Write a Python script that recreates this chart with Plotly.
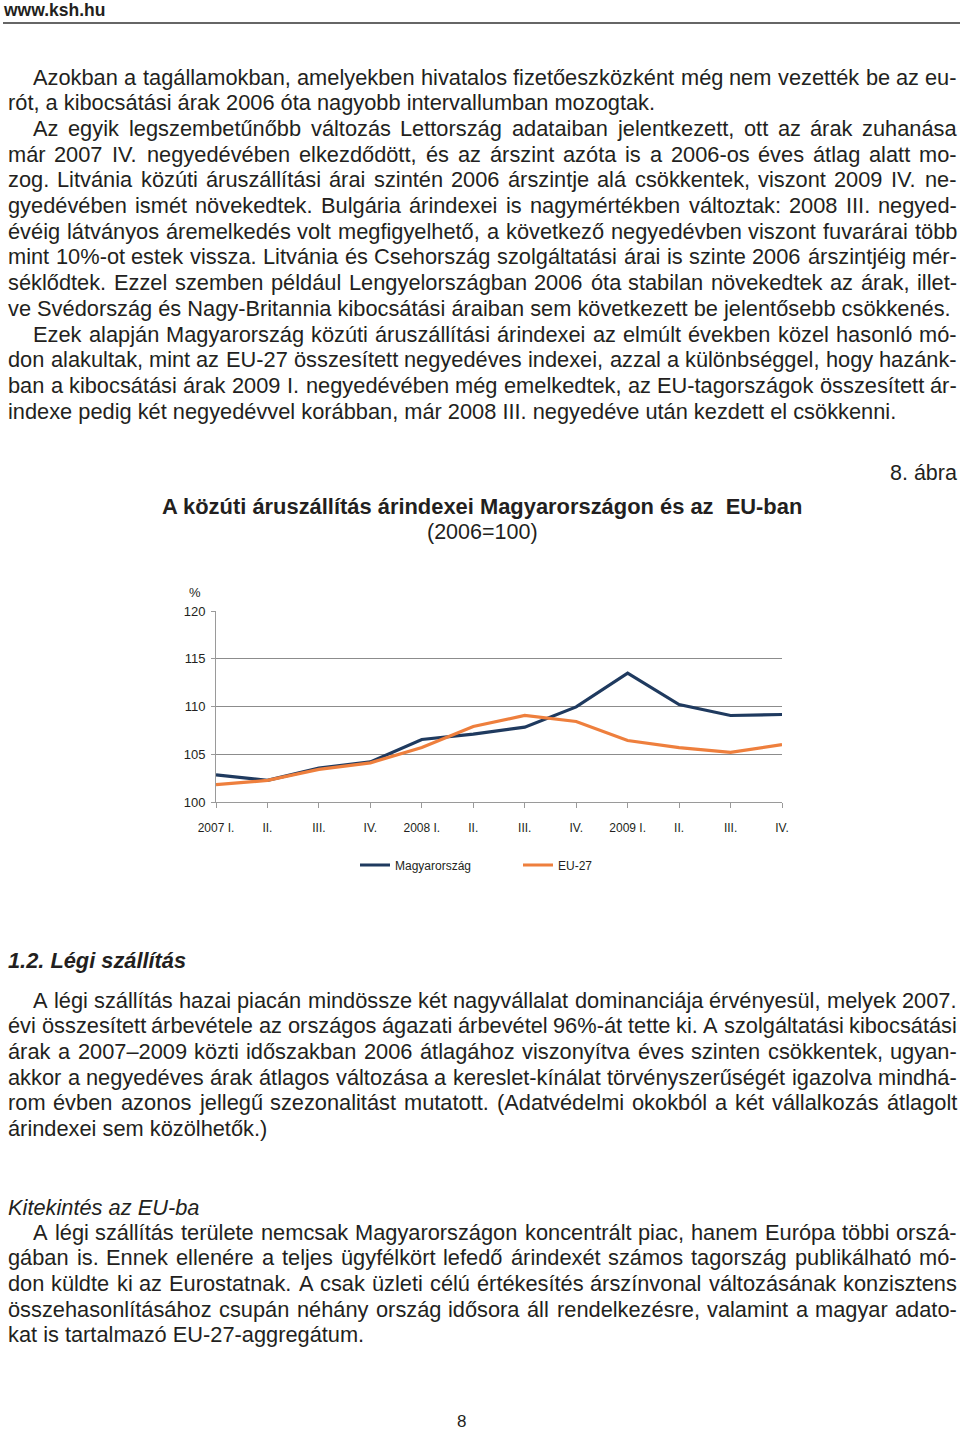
import unicodedata
import plotly.graph_objects as go

W, H = 960, 1431

# ---------------- chart data ----------------
quarters = ["2007 I.", "II.", "III.", "IV.", "2008 I.", "II.", "III.", "IV.",
            "2009 I.", "II.", "III.", "IV."]
hungary = [102.85, 102.26, 103.55, 104.2, 106.55, 107.1, 107.84, 109.96,
           113.49, 110.2, 109.06, 109.16]
eu27 = [101.81, 102.26, 103.41, 104.1, 105.7, 107.9, 109.06, 108.43,
        106.44, 105.7, 105.19, 106.0]
y_ticks = [100, 105, 110, 115, 120]
series_names = ["Magyarország", "EU-27"]

# ---------------- page text ----------------
para1 = [
    "Azokban a tagállamokban, amelyekben hivatalos fizetőeszközként még nem vezették be az eu-",
    "rót, a kibocsátási árak 2006 óta nagyobb intervallumban mozogtak.",
    "Az egyik legszembetűnőbb változás Lettország adataiban jelentkezett, ott az árak zuhanása",
    "már 2007 IV. negyedévében elkezdődött, és az árszint azóta is a 2006-os éves átlag alatt mo-",
    "zog. Litvánia közúti áruszállítási árai szintén 2006 árszintje alá csökkentek, viszont 2009 IV. ne-",
    "gyedévében ismét növekedtek. Bulgária árindexei is nagymértékben változtak: 2008 III. negyed-",
    "évéig látványos áremelkedés volt megfigyelhető, a következő negyedévben viszont fuvarárai több",
    "mint 10%-ot estek vissza. Litvánia és Csehország szolgáltatási árai is szinte 2006 árszintjéig mér-",
    "séklődtek. Ezzel szemben például Lengyelországban 2006 óta stabilan növekedtek az árak, illet-",
    "ve Svédország és Nagy-Britannia kibocsátási áraiban sem következett be jelentősebb csökkenés.",
    "Ezek alapján Magyarország közúti áruszállítási árindexei az elmúlt években közel hasonló mó-",
    "don alakultak, mint az EU-27 összesített negyedéves indexei, azzal a különbséggel, hogy hazánk-",
    "ban a kibocsátási árak 2009 I. negyedévében még emelkedtek, az EU-tagországok összesített ár-",
    "indexe pedig két negyedévvel korábban, már 2008 III. negyedéve után kezdett el csökkenni.",
]
para1_indent = {0, 2, 10}
para1_last = {1, 9, 13}

para2 = [
    "A légi szállítás hazai piacán mindössze két nagyvállalat dominanciája érvényesül, melyek 2007.",
    "évi összesített árbevétele az országos ágazati árbevétel 96%-át tette ki. A szolgáltatási kibocsátási",
    "árak a 2007–2009 közti időszakban 2006 átlagához viszonyítva éves szinten csökkentek, ugyan-",
    "akkor a negyedéves árak átlagos változása a kereslet-kínálat törvényszerűségét igazolva mindhá-",
    "rom évben azonos jellegű szezonalitást mutatott. (Adatvédelmi okokból a két vállalkozás átlagolt",
    "árindexei sem közölhetők.)",
]
para3 = [
    "A légi szállítás területe nemcsak Magyarországon koncentrált piac, hanem Európa többi orszá-",
    "gában is. Ennek ellenére a teljes ügyfélkört lefedő árindexét számos tagország publikálható mó-",
    "don küldte ki az Eurostatnak. A csak üzleti célú értékesítés árszínvonal változásának konzisztens",
    "összehasonlításához csupán néhány ország idősora áll rendelkezésre, valamint a magyar adato-",
    "kat is tartalmazó EU-27-aggregátum.",
]

BODY = "Liberation Sans, Arial, Helvetica, sans-serif"
TXT = "#231f20"
BODY_SIZE = 21.8
LEFT, INDENT, RIGHT = 8, 33, 957
LINE_H = 25.7

# Arial / Liberation Sans advance widths (per 1000 em)
AW = {' ': 278, '!': 278, '%': 889, '(': 333, ')': 333, ',': 278, '-': 333, '.': 278,
      ':': 278, ';': 278, '=': 584, '–': 556, '/': 278,
      'A': 667, 'B': 667, 'C': 722, 'D': 722, 'E': 667, 'F': 611, 'G': 778, 'H': 722,
      'I': 278, 'J': 500, 'K': 667, 'L': 556, 'M': 833, 'N': 722, 'O': 778, 'P': 667,
      'Q': 778, 'R': 722, 'S': 667, 'T': 611, 'U': 722, 'V': 667, 'W': 944, 'X': 667,
      'Y': 667, 'Z': 611,
      'a': 556, 'b': 556, 'c': 500, 'd': 556, 'e': 556, 'f': 278, 'g': 556, 'h': 556,
      'i': 222, 'j': 222, 'k': 500, 'l': 222, 'm': 833, 'n': 556, 'o': 556, 'p': 556,
      'q': 556, 'r': 333, 's': 500, 't': 278, 'u': 556, 'v': 500, 'w': 722, 'x': 500,
      'y': 500, 'z': 500, 'í': 278, 'Í': 278}
for d in "0123456789":
    AW[d] = 556


def text_w(s, size):
    tot = 0
    for c in s:
        if c in AW:
            tot += AW[c]
        else:
            b = unicodedata.normalize('NFD', c)[0]
            tot += AW.get(b, 556)
    return tot / 1000 * size


def X(p):
    return p / W


def Y(p):
    return 1 - p / H


annotations = []


def add_text(x, y, s, size=BODY_SIZE, family=BODY, anchor="left", color=TXT, yanchor="middle"):
    annotations.append(dict(x=X(x), y=Y(y), xref="paper", yref="paper", text=s,
                            showarrow=False, xanchor=anchor, yanchor=yanchor,
                            borderpad=0, borderwidth=0,
                            font=dict(family=family, size=size, color=color)))


def add_para(lines, y0, indents, lasts):
    for i, line in enumerate(lines):
        y = y0 + i * LINE_H
        x0 = INDENT if i in indents else LEFT
        if i in lasts:
            add_text(x0, y, line)
            continue
        words = line.split(' ')
        widths = [text_w(w, BODY_SIZE) for w in words]
        gap = (RIGHT - x0 - sum(widths)) / (len(words) - 1)
        x = x0
        for w, wd in zip(words, widths):
            add_text(x, y, w)
            x += wd + gap


add_para(para1, 77, para1_indent, para1_last)
add_para(para2, 1000, {0}, {5})
add_para(para3, 1232, {0}, {4})

# header / headings
add_text(3, 0, "<b>www.ksh.hu</b>", size=17.5, yanchor="top")
add_text(8, 960, "<b><i>1.2. Légi szállítás</i></b>")
add_text(8, 1207, "<i>Kitekintés az EU-ba</i>")
add_text(461, 1431, "8", size=17, anchor="center", yanchor="bottom")

# chart texts
add_text(957, 473, "8. ábra", size=21.5, anchor="right")
add_text(482, 506, "<b>A közúti áruszállítás árindexei Magyarországon és az  EU-ban</b>",
         size=21.9, anchor="center")
add_text(482, 532, "(2006=100)", size=21.5, anchor="center")
add_text(195, 592, "%", size=13, anchor="center")

fig = go.Figure()
x_idx = list(range(len(quarters)))
fig.add_trace(go.Scatter(x=x_idx, y=hungary, mode="lines", name=series_names[0],
                         line=dict(color="#1f3a5f", width=3.2)))
fig.add_trace(go.Scatter(x=x_idx, y=eu27, mode="lines", name=series_names[1],
                         line=dict(color="#ee7f3d", width=3.2)))

fig.update_layout(
    width=W, height=H, margin=dict(l=0, r=0, t=0, b=0, autoexpand=False),
    paper_bgcolor="white", plot_bgcolor="white",
    annotations=annotations,
    shapes=[dict(type="line", xref="paper", yref="paper", x0=X(3), x1=X(960),
                 y0=Y(23), y1=Y(23), line=dict(color="#333333", width=1.5))],
    xaxis=dict(domain=[X(216), X(782)], range=[0, 11], tickvals=x_idx, ticktext=quarters,
               automargin=False,
               showgrid=False, zeroline=False, showline=True, linecolor="#9a9a9a",
               linewidth=1, ticks="outside", ticklen=5, tickcolor="#9a9a9a",
               tickfont=dict(family=BODY, size=12, color=TXT), ticklabelstandoff=10),
    yaxis=dict(domain=[Y(802), Y(611)], range=[100, 120], tickvals=y_ticks,
               automargin=False,
               showgrid=True, gridcolor="#8c8c8c", gridwidth=1, zeroline=False,
               showline=True, linecolor="#9a9a9a", linewidth=1,
               ticks="outside", ticklen=4, tickcolor="#9a9a9a",
               tickfont=dict(family=BODY, size=13, color=TXT), ticklabelstandoff=3),
    showlegend=True,
    legend=dict(orientation="h", x=X(355), xanchor="left", y=Y(865), yanchor="middle",
                font=dict(family=BODY, size=12, color=TXT), bgcolor="rgba(0,0,0,0)",
                entrywidth=118, entrywidthmode="pixels", itemwidth=30),
)

fig.write_html("out.html", config={"displayModeBar": False},
               post_script="document.body.style.margin='0';document.body.style.overflow='hidden';")
